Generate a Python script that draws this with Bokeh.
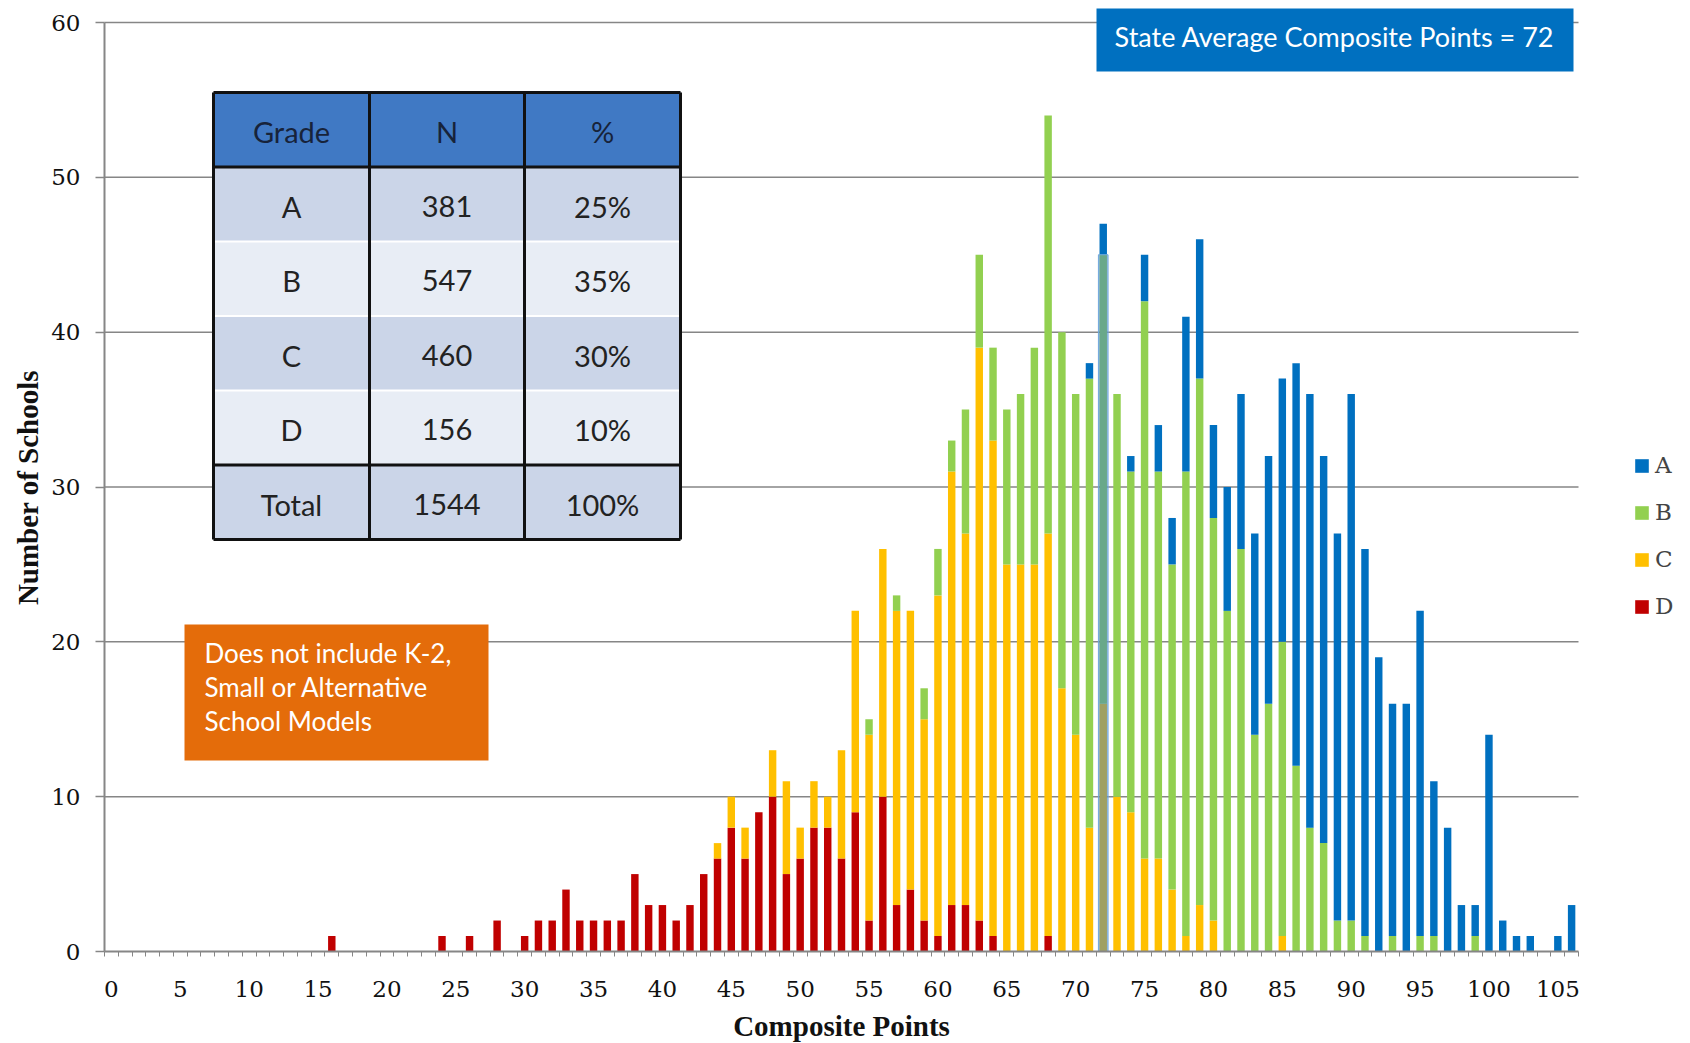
import math
from bokeh.plotting import figure
from bokeh.models import (ColumnDataSource, FixedTicker, Legend, LegendItem, Range1d)
from bokeh.core.properties import value
from bokeh.embed import file_html
from bokeh.resources import INLINE

# ---------------- data ----------------
points = list(range(0, 107))          # composite points 0..106

grade_a = [0] * 70 + [
    0, 1, 2, 0, 1, 3, 3, 3, 10, 9,      # 70-79
    6, 8, 10, 13, 16, 17, 26, 28, 25, 25,  # 80-89
    34, 25, 19, 15, 16, 21, 10, 8, 3, 2,   # 90-99
    14, 2, 1, 1, 0, 1, 3]                # 100-106

grade_b = [0] * 50 + [
    0, 0, 0, 0, 0, 1, 0, 1, 0, 2,       # 50-59
    3, 2, 8, 6, 6, 10, 11, 14, 27, 23,  # 60-69
    22, 29, 29, 26, 22, 36, 25, 21, 30, 34,  # 70-79
    26, 22, 26, 14, 16, 19, 12, 8, 7, 2,     # 80-89
    2, 1, 0, 1, 0, 1, 1, 0, 0, 1,       # 90-99
    0, 0, 0, 0, 0, 0, 0]                # 100-106

grade_c = [0] * 40 + [
    0, 0, 0, 0, 1, 2, 2, 0, 3, 6,       # 40-49
    2, 3, 2, 7, 13, 12, 16, 19, 18, 13,  # 50-59
    22, 28, 24, 37, 32, 25, 25, 25, 26, 17,  # 60-69
    14, 8, 16, 10, 9, 6, 6, 4, 1, 3,    # 70-79
    2, 0, 0, 0, 0, 1, 0, 0, 0, 0] + [0] * 17  # 80-106

grade_d = [
    0, 0, 0, 0, 0, 0, 0, 0, 0, 0,       # 0-9
    0, 0, 0, 0, 0, 0, 1, 0, 0, 0,       # 10-19
    0, 0, 0, 0, 1, 0, 1, 0, 2, 0,       # 20-29
    1, 2, 2, 4, 2, 2, 2, 2, 5, 3,       # 30-39
    3, 2, 3, 5, 6, 8, 6, 9, 10, 5,      # 40-49
    6, 8, 8, 6, 9, 2, 10, 3, 4, 2,      # 50-59
    1, 3, 3, 2, 1, 0, 0, 0, 1, 0] + [0] * 37  # 60-106

grades = ["A", "B", "C", "D"]
grade_colors = {"A": "#0070C0", "B": "#92D050", "C": "#FFC000", "D": "#C00000"}

x_ticks = list(range(0, 106, 5))
y_ticks = [0, 10, 20, 30, 40, 50, 60]
state_avg = 72

table_header = ["Grade", "N", "%"]
table_rows = [["A", "381", "25%"], ["B", "547", "35%"], ["C", "460", "30%"],
              ["D", "156", "10%"], ["Total", "1544", "100%"]]
note_lines = ["Does not include K-2,", "Small or Alternative", "School Models"]
title_text = "State Average Composite Points = 72"

# ---------------- layout (frame covers the whole canvas) ----------------
W, H = 1690, 1043
X0_PX, X1_PX = 104, 1578      # pixel of category edges -0.5 and 106.5
Y0_PX, Y60_PX = 951, 22       # pixel of y=0 and y=60
XS = (X1_PX - X0_PX) / 107.0
YS = (Y0_PX - Y60_PX) / 60.0
X_LO, X_HI = -0.5, 106.5


def dx(px):
    return X_LO + (px - X0_PX) / XS


def dy(py):
    return (Y0_PX - py) / YS


p = figure(width=W, height=H, title=None,
           x_range=Range1d(dx(0), dx(W)), y_range=Range1d(dy(H), dy(0)),
           output_backend="svg", toolbar_location=None,
           min_border=0, min_border_left=0, min_border_right=0,
           min_border_top=0, min_border_bottom=0)
p.outline_line_color = None
p.background_fill_color = "white"
p.border_fill_color = "white"
p.grid.visible = False

grey = "#868686"

# horizontal gridlines (drawn first, below bars)
p.segment(x0=[X_LO] * (len(y_ticks) - 1), x1=[X_HI] * (len(y_ticks) - 1),
          y0=y_ticks[1:], y1=y_ticks[1:], line_color=grey, line_width=1.5)

# ---------------- axes ----------------
p.xaxis.fixed_location = 0
p.yaxis.fixed_location = X_LO
p.xaxis.bounds = (X_LO, X_HI)
p.yaxis.bounds = (0, 60)

p.xaxis.ticker = FixedTicker(ticks=x_ticks, minor_ticks=[k + 0.5 for k in range(-1, 107)])
p.xaxis.major_tick_out = 0
p.xaxis.major_tick_in = 0
p.xaxis.minor_tick_out = 5
p.xaxis.minor_tick_in = 0
p.xaxis.minor_tick_line_color = grey
p.xaxis.major_label_standoff = 24

p.yaxis.ticker = FixedTicker(ticks=y_ticks)
p.yaxis.major_tick_out = 9
p.yaxis.major_tick_in = 0
p.yaxis.minor_tick_line_color = None
p.yaxis.major_label_standoff = 15

for ax in (p.xaxis, p.yaxis):
    ax.axis_line_color = grey
    ax.axis_line_width = 2
    ax.major_tick_line_color = grey
    ax.major_tick_line_width = 1.5
    ax.major_label_text_font = "DejaVu Serif"
    ax.major_label_text_font_size = "23px"
    ax.major_label_text_color = "#111111"

# ---------------- bars ----------------
src = ColumnDataSource(dict(x=points, A=grade_a, B=grade_b, C=grade_c, D=grade_d))
stack_order = ["D", "C", "B", "A"]
rends = p.vbar_stack(stack_order, x="x", width=0.54, source=src,
                     color=[grade_colors[g] for g in stack_order], line_width=0)
rmap = dict(zip(stack_order, rends))

# state average marker over the bar at 72
i_avg = points.index(state_avg)
p.vbar(x=[state_avg], top=[grade_b[i_avg] + grade_c[i_avg] + grade_d[i_avg]], width=0.7,
       fill_color="#3F7FC4", fill_alpha=0.5, line_color="#6FA8DC", line_width=1)

# ---------------- axis titles ----------------
p.text(x=[dx(27)], y=[dy(487)], text=["Number of Schools"], angle=math.pi / 2,
       text_align="center", text_baseline="middle", text_font=value("Liberation Serif"),
       text_font_style="bold", text_font_size="29px", text_color="#111111")
p.text(x=[dx(841)], y=[dy(1025)], text=["Composite Points"],
       text_align="center", text_baseline="middle", text_font=value("Liberation Serif"),
       text_font_style="bold", text_font_size="29px", text_color="#111111")

# ---------------- grade table ----------------
col_px = [213, 369, 524, 680]
row_px = [92 + 74.5 * i for i in range(7)]
row_fill = ["#4079C4", "#CBD5E8", "#E8EDF5", "#CBD5E8", "#E8EDF5", "#CBD5E8"]
p.quad(left=[dx(col_px[0])] * 6, right=[dx(col_px[-1])] * 6,
       top=[dy(row_px[i]) for i in range(6)], bottom=[dy(row_px[i + 1]) for i in range(6)],
       fill_color=row_fill, line_color=None)
p.multi_line(xs=[[dx(col_px[0]), dx(col_px[-1])]] * 3,
             ys=[[dy(row_px[i])] * 2 for i in (2, 3, 4)], line_color="white", line_width=2)
bx = [[dx(c), dx(c)] for c in col_px] + [[dx(col_px[0]), dx(col_px[-1])]] * 4
by = [[dy(row_px[0]), dy(row_px[-1])]] * 4 + [[dy(row_px[i])] * 2 for i in (0, 1, 5, 6)]
p.multi_line(xs=bx, ys=by, line_color="#111111", line_width=3)

col_cx = [dx((col_px[i] + col_px[i + 1]) / 2) for i in range(3)]
row_cy = [dy((row_px[i] + row_px[i + 1]) / 2 + 2) for i in range(6)]
p.text(x=col_cx, y=[row_cy[0]] * 3, text=table_header, text_font=value("Lato"),
       text_font_size="29px", text_align="center", text_baseline="middle", text_color="#17233A")
tx, ty, tt = [], [], []
for r, row in enumerate(table_rows):
    for c, cell in enumerate(row):
        tx.append(col_cx[c]); ty.append(row_cy[r + 1]); tt.append(cell)
p.text(x=tx, y=ty, text=tt, text_font=value("Lato"), text_font_size="29px",
       text_align="center", text_baseline="middle", text_color="#222222")

# ---------------- note box ----------------
p.quad(left=[dx(184)], right=[dx(488)], top=[dy(624)], bottom=[dy(760)],
       fill_color="#E46C0A", line_color=None)
p.text(x=[dx(204)] * 3, y=[dy(652), dy(686), dy(720)], text=note_lines,
       text_font=value("Lato"), text_font_size="26px", text_align="left",
       text_baseline="middle", text_color="white")

# ---------------- title box ----------------
p.quad(left=[dx(1096)], right=[dx(1573)], top=[dy(8)], bottom=[dy(71)],
       fill_color="#0070C0", line_color=None)
p.text(x=[dx(1334)], y=[dy(36)], text=[title_text], text_align="center",
       text_baseline="middle", text_font=value("Lato"), text_font_size="27px",
       text_color="white")

# ---------------- legend ----------------
legend = Legend(items=[LegendItem(label=g, renderers=[rmap[g]]) for g in grades],
                location=(1633, 424), orientation="vertical", glyph_width=17, glyph_height=17,
                label_standoff=5, spacing=21, padding=0, margin=0, border_line_color=None,
                background_fill_alpha=0, label_text_font="DejaVu Serif",
                label_text_font_size="23px", label_height=17)
p.add_layout(legend)

open("out.html", "w").write(file_html(p, INLINE))
